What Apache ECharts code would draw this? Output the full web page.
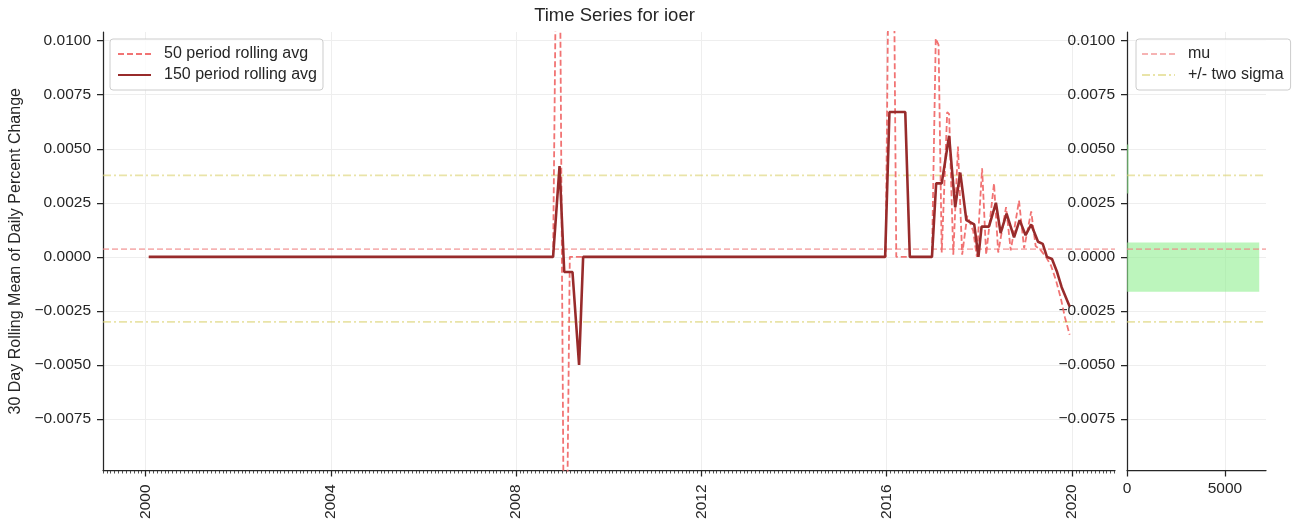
<!DOCTYPE html>
<html>
<head>
<meta charset="utf-8">
<script src="https://cdn.jsdelivr.net/npm/echarts@6/dist/echarts.min.js"></script>
<style>
  html, body { margin: 0; padding: 0; background: #ffffff; }
  #chart { width: 1299px; height: 519px; }
</style>
</head>
<body>
<div id="chart"></div>
<script>
// IOER: 30-day rolling mean of daily percent change, smoothed twice
const dates50 = ['2000-01-26','2008-10-19','2008-11-10','2008-12-13','2009-01-11','2009-02-06','2009-02-28',
  '2015-12-24','2016-01-15','2016-02-28','2016-03-17','2016-12-24','2017-01-23','2017-02-14','2017-03-11',
  '2017-04-23','2017-05-08','2017-06-10','2017-07-17','2017-08-19','2017-09-28','2017-11-14','2017-12-13',
  '2018-01-23','2018-02-24','2018-04-27','2018-05-30','2018-07-31','2018-09-06','2018-11-10','2018-12-20',
  '2019-02-14','2019-03-21','2019-05-01','2019-06-10','2019-07-20','2019-08-29','2019-10-05','2019-11-07','2019-12-14'];
const values50 = [0, 0, 0.0128, 0.0128, -0.0125, -0.0125, 0,
  0, 0.0130, 0.0130, 0, 0, 0.0101, 0.0098, 0.0002,
  0.0067, 0.0066, 0.0001, 0.0051, 0.0001, 0.0019, 0.0012, 0.0000,
  0.0041, 0.0001, 0.0034, 0.0002, 0.0023, 0.0003, 0.0026, 0.0004,
  0.0021, 0.0005, 0.0003, 0.0000, -0.0004, -0.0011, -0.0019, -0.0028, -0.0036];

const dates150 = ['2000-01-26','2008-10-19','2008-12-09','2009-01-15','2009-03-21','2009-05-12','2009-06-13',
  '2015-12-20','2016-01-23','2016-05-27','2016-07-02','2016-12-24','2017-01-26','2017-03-11','2017-05-08',
  '2017-06-25','2017-08-04','2017-09-21','2017-11-22','2017-12-25','2018-01-19','2018-03-18','2018-05-12',
  '2018-06-18','2018-08-04','2018-10-02','2018-11-15','2019-01-01','2019-02-14','2019-04-09','2019-05-16',
  '2019-06-18','2019-07-28','2019-09-06','2019-10-12','2019-12-14'];
const values150 = [0, 0, 0.0042, -0.0007, -0.0007, -0.0050, 0,
  0, 0.0067, 0.0067, 0, 0, 0.0034, 0.0034, 0.0056,
  0.0023, 0.0039, 0.0017, 0.0015, 0.0000, 0.0014, 0.0014, 0.0025,
  0.0011, 0.0020, 0.0009, 0.0017, 0.0010, 0.0015, 0.0007, 0.0006,
  0.0000, -0.0001, -0.0007, -0.0014, -0.0023];

// summary statistics
const mu = 0.00036;
const sigmaBands = [0.00377, -0.00301];

// histogram of the rolling mean (bin low, bin high, count)
const binLow = [-0.00161, 0.00293];
const binHigh = [0.00066, 0.00520];
const binCount = [6755, 80];

// ticks
const yTicks = [-0.0075, -0.005, -0.0025, 0, 0.0025, 0.005, 0.0075, 0.01];
const yearTicks = [2000, 2004, 2008, 2012, 2016, 2020];
const countTicks = [0, 5000];

// axis limits
const X_MIN = 1999.08, X_MAX = 2020.93;
const Y_MIN = -0.00988, Y_MAX = 0.01040;
const COUNT_MAX = 7100;

const FONT = '"Liberation Sans", Arial, sans-serif';
const TEXT = '#262626';
const GRIDLINE = '#eeeeee';

function toYear(s) {
  const [y, m, d] = s.split('-').map(Number);
  const start = Date.UTC(y, 0, 1), end = Date.UTC(y + 1, 0, 1);
  return y + (Date.UTC(y, m - 1, d) - start) / (end - start);
}
const pairs = (ds, vs) => ds.map((d, i) => [toYear(d), vs[i]]);

// monthly minor ticks on the date axis
const monthTicks = [];
for (let y = 1999; y <= 2020; y++) {
  for (let m = 0; m < 12; m++) {
    const v = toYear(`${y}-${String(m + 1).padStart(2, '0')}-01`);
    if (v >= X_MIN && v <= X_MAX) monthTicks.push(v);
  }
}

const fmtY = v => (v < 0 ? '\u2212' : '') + Math.abs(v).toFixed(4);

const axisLineStyle = { color: TEXT, width: 1.25 };
const labelStyle = { color: TEXT, fontSize: 15.5, fontFamily: FONT };

const yAxisBase = (grid) => ({
  type: 'value', gridIndex: grid, min: Y_MIN, max: Y_MAX,
  axisLine: { show: true, onZero: false, lineStyle: axisLineStyle },
  axisTick: { show: true, customValues: yTicks, length: 6, lineStyle: axisLineStyle },
  axisLabel: Object.assign({ customValues: yTicks, formatter: fmtY, margin: 12 }, labelStyle),
  splitLine: { show: true, lineStyle: { color: GRIDLINE, width: 1 } }
});

const muStyle = { color: 'rgba(240,128,128,0.6)', width: 1.7, type: [6, 3] };
const sigmaStyle = { color: 'rgba(218,210,110,0.6)', width: 1.7, type: [8, 3, 2, 3] };

// horizontal reference line across an axis span [x0, x1]
function refLine(name, style, level, x0, x1, xi, yi) {
  return {
    name, type: 'line', xAxisIndex: xi, yAxisIndex: yi,
    data: [[x0, level], [x1, level]],
    symbol: 'none', lineStyle: style, itemStyle: { color: style.color },
    silent: true, z: 2
  };
}

const legendBase = {
  orient: 'vertical', top: 39,
  itemWidth: 33, itemHeight: 14, itemGap: 5,
  borderColor: '#cccccc', borderWidth: 1, borderRadius: 3,
  backgroundColor: 'rgba(255,255,255,0.8)', selectedMode: false,
  itemStyle: { opacity: 0 },
  textStyle: Object.assign({}, labelStyle, { fontSize: 16, padding: [0, 0, 0, 8] })
};

const chart = echarts.init(document.getElementById('chart'), null, { renderer: 'canvas' });

chart.setOption({
  animation: false,
  backgroundColor: '#ffffff',
  textStyle: { fontFamily: FONT },
  title: {
    text: 'Time Series for ioer', left: 609.5, top: 1, textAlign: 'center',
    textStyle: { color: TEXT, fontSize: 18.5, fontWeight: 'normal', fontFamily: FONT }
  },
  grid: [
    { left: 103, top: 32, width: 1012, height: 438.5, outerBoundsMode: 'none' },
    { left: 1127, top: 32, width: 139, height: 438.5, outerBoundsMode: 'none' }
  ],
  legend: [
    Object.assign({}, legendBase, {
      data: ['50 period rolling avg', '150 period rolling avg'],
      left: 110, padding: [7, 6, 7, 7]
    }),
    Object.assign({}, legendBase, {
      data: ['mu', '+/- two sigma'],
      left: 1136, padding: [7, 7, 7, 5]
    })
  ],
  xAxis: [
    {
      type: 'value', gridIndex: 0, position: 'bottom', min: X_MIN, max: X_MAX,
      axisLine: { show: true, onZero: false, lineStyle: axisLineStyle },
      axisTick: { show: true, customValues: yearTicks, length: 6, lineStyle: axisLineStyle },
      axisLabel: Object.assign({ customValues: yearTicks, rotate: 90, margin: 14,
        formatter: v => String(Math.round(v)) }, labelStyle),
      splitLine: { show: true, lineStyle: { color: GRIDLINE, width: 1 } }
    },
    {
      type: 'value', gridIndex: 0, position: 'bottom', offset: 0, min: X_MIN, max: X_MAX,
      axisLine: { show: false, onZero: false },
      axisTick: { show: true, customValues: monthTicks, length: 3, lineStyle: { color: TEXT, width: 0.8 } },
      axisLabel: { show: false },
      splitLine: { show: false }
    },
    {
      type: 'value', gridIndex: 1, position: 'bottom', min: 0, max: COUNT_MAX,
      axisLine: { show: true, onZero: false, lineStyle: axisLineStyle },
      axisTick: { show: true, customValues: countTicks, length: 6, lineStyle: axisLineStyle },
      axisLabel: Object.assign({ customValues: countTicks, margin: 10,
        formatter: v => String(Math.round(v)) }, labelStyle),
      splitLine: { show: true, lineStyle: { color: GRIDLINE, width: 1 } }
    }
  ],
  yAxis: [
    Object.assign(yAxisBase(0), {
      name: '30 Day Rolling Mean of Daily Percent Change',
      nameLocation: 'middle', nameRotate: 90, nameGap: 75,
      nameTextStyle: Object.assign({}, labelStyle, { fontSize: 16 })
    }),
    yAxisBase(1)
  ],
  series: [
    refLine('mu', muStyle, mu, X_MIN, X_MAX, 0, 0),
    refLine('+/- two sigma', sigmaStyle, sigmaBands[0], X_MIN, X_MAX, 0, 0),
    refLine('+/- two sigma', sigmaStyle, sigmaBands[1], X_MIN, X_MAX, 0, 0),
    {
      name: '50 period rolling avg', type: 'line', xAxisIndex: 0, yAxisIndex: 0,
      data: pairs(dates50, values50), symbol: 'none', z: 3,
      lineStyle: { color: 'rgba(239,100,100,0.9)', width: 1.8, type: [6, 3] },
      itemStyle: { color: 'rgba(239,100,100,0.9)' }
    },
    {
      name: '150 period rolling avg', type: 'line', xAxisIndex: 0, yAxisIndex: 0,
      data: pairs(dates150, values150), symbol: 'none', z: 4,
      lineStyle: { color: '#982b2b', width: 2.6 },
      itemStyle: { color: '#982b2b' }
    },
    {
      name: 'histogram', type: 'custom', xAxisIndex: 2, yAxisIndex: 1, z: 1,
      data: binLow.map((lo, i) => [lo, binHigh[i], binCount[i]]),
      encode: { x: 2, y: [0, 1] },
      renderItem: (params, api) => {
        const lo = api.value(0), hi = api.value(1), n = api.value(2);
        const a = api.coord([0, hi]);
        const b = api.coord([n, lo]);
        return {
          type: 'rect',
          shape: { x: a[0], y: a[1], width: b[0] - a[0], height: b[1] - a[1] },
          style: { fill: 'rgba(144,238,144,0.6)' }
        };
      }
    },
    refLine('mu', muStyle, mu, 0, COUNT_MAX, 2, 1),
    refLine('+/- two sigma', sigmaStyle, sigmaBands[0], 0, COUNT_MAX, 2, 1),
    refLine('+/- two sigma', sigmaStyle, sigmaBands[1], 0, COUNT_MAX, 2, 1)
  ]
});
</script>
</body>
</html>
